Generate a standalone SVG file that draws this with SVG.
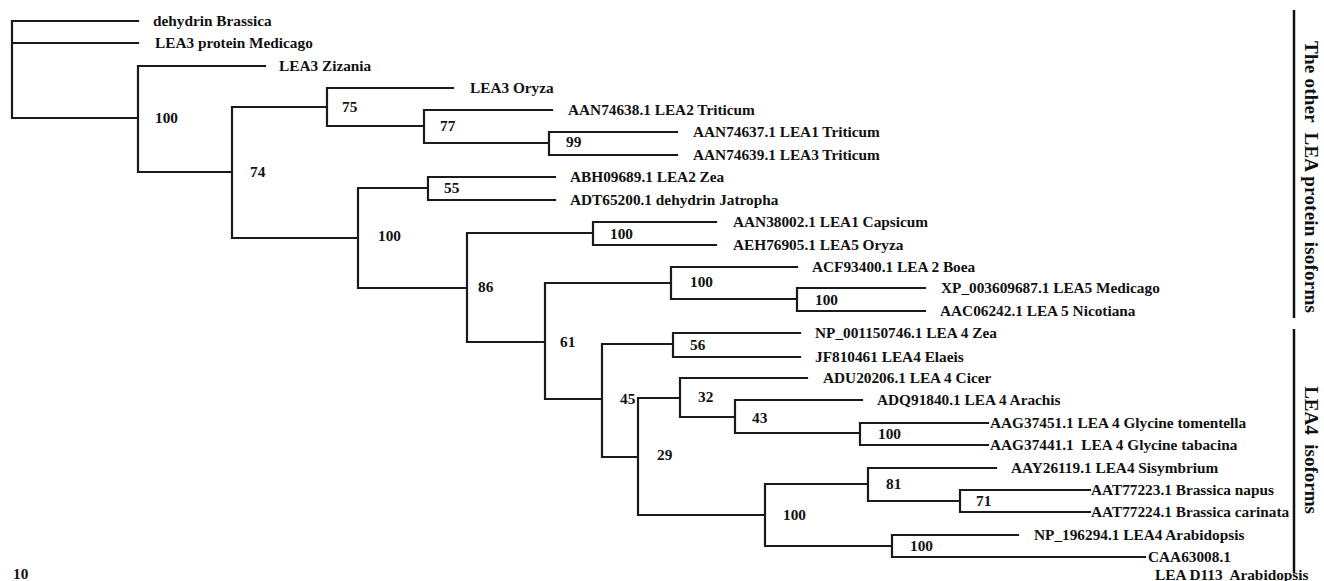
<svg xmlns="http://www.w3.org/2000/svg" width="1324" height="581" viewBox="0 0 1324 581">
<style>
.b{stroke:#1a1a1a;stroke-width:2.2;fill:none;stroke-linecap:square}
.bar{stroke:#111;stroke-width:2.5;fill:none}
text{font-family:"Liberation Serif","Times New Roman",serif;font-weight:bold;fill:#111;white-space:pre}
.t{font-size:15.3px}
.s{font-size:15.3px}
.side{font-size:19px}
</style>
<rect width="1324" height="581" fill="#fff"/>
<g id="connectors">
<path class="b" d="M12,21V118 M12,21H138 M12,43H138 M12,118H138
M138,66V172 M138,66H265 M138,172H232
M232,107V238 M232,107H327
M327,88V126 M327,88H453 M327,126H424
M424,110V143 M424,110H552 M424,143H549
M549,132V155 M549,132H677 M549,155H677
M232,238H358 M358,188V288 M358,188H428
M428,177V200 M428,177H555 M428,200H555
M358,288H467 M467,233V342 M467,233H593
M593,222V245 M593,222H716 M593,245H716
M467,342H545 M545,283V399 M545,283H671
M671,267V299 M671,267H797 M671,299H797
M797,288V311 M797,288H925 M797,311H925
M545,399H602 M602,344V457 M602,344H673
M673,333V357 M673,333H800 M673,357H800
M602,457H638 M638,398V515 M638,398H680
M680,378V417 M680,378H807 M680,417H735
M735,400V433 M735,400H862 M735,433H860
M860,423V445 M860,423H988 M860,445H988
M638,515H765 M765,484V546 M765,484H868
M868,468V501 M868,468H996 M868,501H960
M960,490V512 M960,490H1090 M960,512H1090
M765,546H892 M892,535V557 M892,535H1018 M892,557H1145"/>
</g>
<g id="tips" class="t">
<g id="tip-dehydrin-brassica"><text x="153" y="26">dehydrin Brassica</text></g>
<g id="tip-lea3-medicago"><text x="155" y="48">LEA3 protein Medicago</text></g>
<g id="tip-lea3-zizania"><text x="279" y="71">LEA3 Zizania</text></g>
<g id="tip-lea3-oryza"><text x="470" y="93">LEA3 Oryza</text></g>
<g id="tip-AAN74638"><text x="568" y="115">AAN74638.1 LEA2 Triticum</text></g>
<g id="tip-AAN74637"><text x="693" y="137">AAN74637.1 LEA1 Triticum</text></g>
<g id="tip-AAN74639"><text x="693" y="160">AAN74639.1 LEA3 Triticum</text></g>
<g id="tip-ABH09689"><text x="570" y="182">ABH09689.1 LEA2 Zea</text></g>
<g id="tip-ADT65200"><text x="570" y="205">ADT65200.1 dehydrin Jatropha</text></g>
<g id="tip-AAN38002"><text x="733" y="227">AAN38002.1 LEA1 Capsicum</text></g>
<g id="tip-AEH76905"><text x="733" y="250">AEH76905.1 LEA5 Oryza</text></g>
<g id="tip-ACF93400"><text x="812" y="272">ACF93400.1 LEA 2 Boea</text></g>
<g id="tip-XP_003609687"><text x="941" y="293">XP_003609687.1 LEA5 Medicago</text></g>
<g id="tip-AAC06242"><text x="940" y="316">AAC06242.1 LEA 5 Nicotiana</text></g>
<g id="tip-NP_001150746"><text x="815" y="338">NP_001150746.1 LEA 4 Zea</text></g>
<g id="tip-JF810461"><text x="815" y="362">JF810461 LEA4 Elaeis</text></g>
<g id="tip-ADU20206"><text x="823" y="383">ADU20206.1 LEA 4 Cicer</text></g>
<g id="tip-ADQ91840"><text x="877" y="405">ADQ91840.1 LEA 4 Arachis</text></g>
<g id="tip-AAG37451"><text x="990" y="428">AAG37451.1 LEA 4 Glycine tomentella</text></g>
<g id="tip-AAG37441"><text x="990" y="450">AAG37441.1  LEA 4 Glycine tabacina</text></g>
<g id="tip-AAY26119"><text x="1011" y="473">AAY26119.1 LEA4 Sisymbrium</text></g>
<g id="tip-AAT77223"><text x="1091" y="495">AAT77223.1 Brassica napus</text></g>
<g id="tip-AAT77224"><text x="1091" y="517">AAT77224.1 Brassica carinata</text></g>
<g id="tip-NP_196294"><text x="1034" y="540">NP_196294.1 LEA4 Arabidopsis</text></g>
<g id="tip-CAA63008"><text x="1148" y="562">CAA63008.1</text><text x="1155" y="580">LEA D113  Arabidopsis</text></g>
</g>
<g id="bootstrap" class="s">
<g id="n-A"><text x="155" y="123">100</text></g>
<g id="n-B"><text x="250" y="177">74</text></g>
<g id="n-C"><text x="342" y="112">75</text></g>
<g id="n-D"><text x="440" y="131">77</text></g>
<g id="n-E"><text x="566" y="147">99</text></g>
<g id="n-F"><text x="378" y="241">100</text></g>
<g id="n-G"><text x="444" y="193">55</text></g>
<g id="n-H"><text x="478" y="292">86</text></g>
<g id="n-I"><text x="610" y="239">100</text></g>
<g id="n-J"><text x="560" y="347">61</text></g>
<g id="n-K"><text x="690" y="287">100</text></g>
<g id="n-L"><text x="815" y="305">100</text></g>
<g id="n-M"><text x="620" y="404">45</text></g>
<g id="n-N"><text x="690" y="350">56</text></g>
<g id="n-O"><text x="657" y="460">29</text></g>
<g id="n-P"><text x="698" y="402">32</text></g>
<g id="n-Q"><text x="752" y="423">43</text></g>
<g id="n-R"><text x="878" y="439">100</text></g>
<g id="n-S"><text x="783" y="520">100</text></g>
<g id="n-T"><text x="886" y="489">81</text></g>
<g id="n-U"><text x="976" y="506">71</text></g>
<g id="n-V"><text x="910" y="551">100</text></g>
</g>
<g id="group-other-lea">
<line class="bar" x1="1294" y1="10" x2="1294" y2="318"/>
<text class="side" text-anchor="middle" transform="translate(1305,177) rotate(90)" textLength="272" lengthAdjust="spacing">The other  LEA protein isoforms</text>
</g>
<g id="group-lea4">
<line class="bar" x1="1294" y1="329" x2="1294" y2="573"/>
<text class="side" text-anchor="middle" transform="translate(1305,450) rotate(90)">LEA4  isoforms</text>
</g>
<g id="scale"><text class="s" x="13" y="579">10</text></g>
</svg>
